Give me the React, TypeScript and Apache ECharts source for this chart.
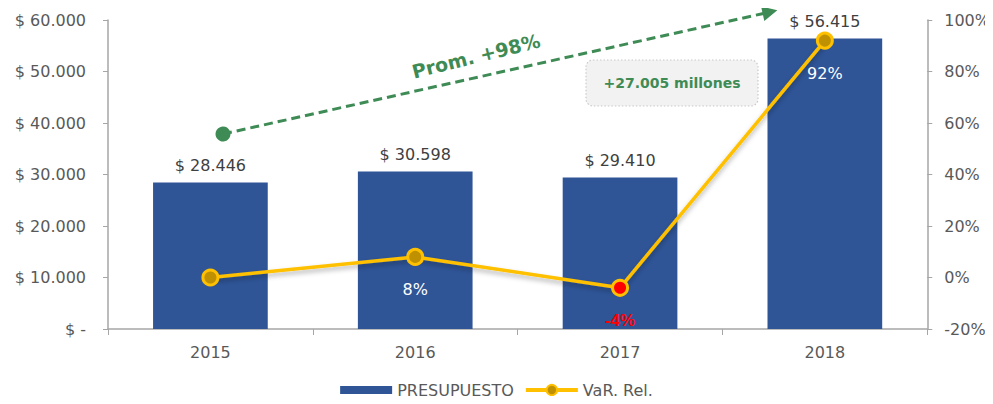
import React, { useEffect, useRef } from "react";
import * as echarts from "echarts";

const categories = ["2015", "2016", "2017", "2018"];
const presupuesto = [28446, 30598, 29410, 56415];
const varRel = [0, 8, -4, 92];
const leftTicks = { min: 0, max: 60000, interval: 10000 };
const rightTicks = { min: -20, max: 100, interval: 20 };

const FONT = "DejaVu Sans";
const GREEN = "#3E8B55";

function fmtMoney(v: number): string {
  if (v === 0) return "$ -";
  return "$ " + String(Math.round(v)).replace(/\B(?=(\d{3})+(?!\d))/g, ".");
}

export default function App() {
  const ref = useRef<HTMLDivElement>(null);
  useEffect(() => {
    if (!ref.current) return;
    const chart = echarts.init(ref.current, undefined, { renderer: "svg" });
    const axisColor = "#A6A6A6";
    chart.setOption({
      animation: false,
      textStyle: { fontFamily: FONT },
      grid: { left: 108, right: 65, top: 20, bottom: 75 },
      legend: {
        bottom: 1,
        left: "center",
        itemWidth: 52,
        itemHeight: 13,
        itemGap: 10,
        textStyle: { fontSize: 16, color: "#595959", fontFamily: FONT },
        data: [
          {
            name: "PRESUPUESTO",
            icon: "path://M0,0L52,0M0,2.5L52,2.5L52,10.5L0,10.5ZM0,13L52,13",
          },
          { name: "VaR. Rel.", lineStyle: { width: 4, color: "#FFC000" } },
        ],
      },
      xAxis: {
        type: "category",
        data: categories,
        axisLine: { lineStyle: { color: axisColor, width: 1.5 } },
        axisTick: { show: true, length: 6, lineStyle: { color: axisColor } },
        axisLabel: { color: "#595959", fontSize: 16, margin: 15, fontFamily: FONT },
      },
      yAxis: [
        {
          type: "value",
          min: leftTicks.min,
          max: leftTicks.max,
          interval: leftTicks.interval,
          splitLine: { show: false },
          axisLine: { show: true, lineStyle: { color: axisColor, width: 1.5 } },
          axisTick: { show: true, length: 5, lineStyle: { color: axisColor } },
          axisLabel: {
            color: "#595959",
            fontSize: 16,
            margin: 22,
            fontFamily: FONT,
            formatter: (v: number) => fmtMoney(v),
          },
        },
        {
          type: "value",
          min: rightTicks.min,
          max: rightTicks.max,
          interval: rightTicks.interval,
          splitLine: { show: false },
          axisLine: { show: true, lineStyle: { color: axisColor, width: 1.5 } },
          axisTick: { show: true, length: 5, lineStyle: { color: axisColor } },
          axisLabel: {
            color: "#595959",
            fontSize: 16,
            margin: 17,
            fontFamily: FONT,
            formatter: (v: number) => v + "%",
          },
        },
      ],
      series: [
        {
          name: "PRESUPUESTO",
          type: "bar",
          data: presupuesto,
          barWidth: "56%",
          itemStyle: { color: "#2F5597" },
          label: {
            show: true,
            position: "top",
            distance: 9,
            color: "#404040",
            fontSize: 16,
            fontFamily: FONT,
            formatter: (p: any) => fmtMoney(p.value),
          },
          markLine: {
            silent: true,
            symbol: ["circle", "triangle"],
            symbolSize: [15, 15],
            label: { show: false },
            lineStyle: { color: GREEN, type: [9, 5], width: 3 },
            emphasis: { disabled: true },
            data: [[{ x: 223, y: 134 }, { x: 770, y: 12 }]],
          },
        },
        {
          name: "VaR. Rel.",
          type: "line",
          yAxisIndex: 1,
          data: varRel.map((v, i) =>
            i === 2
              ? {
                  value: v,
                  itemStyle: { color: "#FF0000" },
                  label: {
                    show: true,
                    color: "#FF0000",
                    fontWeight: "bold",
                    fontFamily: "Liberation Sans Narrow, Liberation Sans",
                    fontSize: 17,
                    distance: 15,
                  },
                }
              : i === 0
              ? { value: v, label: { show: false } }
              : { value: v }
          ),
          symbol: "circle",
          symbolSize: 15,
          lineStyle: {
            color: "#FFC000",
            width: 3.5,
            shadowColor: "rgba(0,0,0,0.3)",
            shadowBlur: 5,
            shadowOffsetY: 3,
          },
          itemStyle: { color: "#BF9000", borderColor: "#FFC000", borderWidth: 3 },
          label: {
            show: true,
            position: "bottom",
            distance: 16,
            color: "#FFFFFF",
            fontSize: 16,
            fontFamily: FONT,
            formatter: (p: any) => p.value + "%",
          },
          z: 5,
        },
      ],
      graphic: [
        {
          type: "text",
          x: 476,
          y: 56,
          rotation: (14 * Math.PI) / 180,
          style: {
            text: "Prom. +98%",
            fill: GREEN,
            font: "bold 19px " + FONT,
            align: "center",
            verticalAlign: "middle",
          },
          z: 10,
        },
        {
          type: "rect",
          shape: { x: 586, y: 60, width: 172, height: 46, r: 7 },
          style: { fill: "#F2F2F2", stroke: "#C9C9C9", lineWidth: 1.2, lineDash: [1.5, 2] },
          z: 10,
        },
        {
          type: "text",
          x: 672,
          y: 83,
          style: {
            text: "+27.005 millones",
            fill: GREEN,
            font: "bold 14px " + FONT,
            align: "center",
            verticalAlign: "middle",
          },
          z: 11,
        },
      ],
    });
    return () => chart.dispose();
  }, []);
  return <div ref={ref} style={{ width: 993, height: 404, margin: -8 }} />;
}
